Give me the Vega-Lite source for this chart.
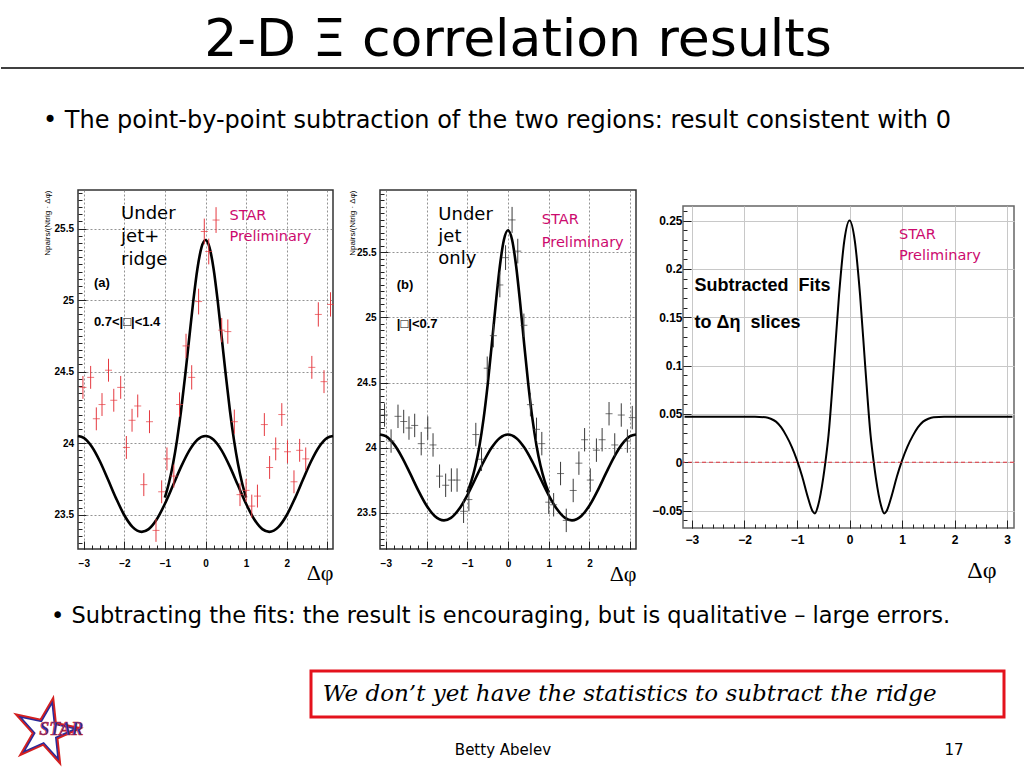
{
  "$schema": "https://vega.github.io/schema/vega-lite/v6.json",
  "background": "white",
  "padding": {"top": 14, "left": 0, "right": 0, "bottom": 0},
  "spacing": 20,
  "config": {
    "view": {"stroke": null},
    "axis": {"domain": false, "labelFont": "Liberation Sans", "labelFontWeight": "bold", "labelColor": "black", "tickColor": "#222", "tickWidth": 1, "labelFlush": false, "minExtent": 0},
    "title": {"color": "black", "fontWeight": "normal"}
  },
  "datasets": {
    "ca": [
      {"c": "f", "x": -3.1416, "y": 24.050}, {"c": "f", "x": -3.0, "y": 24.037}, {"c": "f", "x": -2.8, "y": 23.975}, {"c": "f", "x": -2.6, "y": 23.872},
      {"c": "f", "x": -2.4, "y": 23.744}, {"c": "f", "x": -2.2, "y": 23.612}, {"c": "f", "x": -2.0, "y": 23.496}, {"c": "f", "x": -1.8, "y": 23.415},
      {"c": "f", "x": -1.5708, "y": 23.380}, {"c": "f", "x": -1.4, "y": 23.399}, {"c": "f", "x": -1.2, "y": 23.468}, {"c": "f", "x": -1.0, "y": 23.576},
      {"c": "f", "x": -0.8, "y": 23.705}, {"c": "f", "x": -0.6, "y": 23.836}, {"c": "f", "x": -0.4, "y": 23.948}, {"c": "f", "x": -0.2, "y": 24.024},
      {"c": "f", "x": 0, "y": 24.050}, {"c": "f", "x": 0.2, "y": 24.024}, {"c": "f", "x": 0.4, "y": 23.948}, {"c": "f", "x": 0.6, "y": 23.836},
      {"c": "f", "x": 0.8, "y": 23.705}, {"c": "f", "x": 1.0, "y": 23.576}, {"c": "f", "x": 1.2, "y": 23.468}, {"c": "f", "x": 1.4, "y": 23.399},
      {"c": "f", "x": 1.5708, "y": 23.380}, {"c": "f", "x": 1.8, "y": 23.415}, {"c": "f", "x": 2.0, "y": 23.496}, {"c": "f", "x": 2.2, "y": 23.612},
      {"c": "f", "x": 2.4, "y": 23.744}, {"c": "f", "x": 2.6, "y": 23.872}, {"c": "f", "x": 2.8, "y": 23.975}, {"c": "f", "x": 3.0, "y": 24.037},
      {"c": "f", "x": 3.1416, "y": 24.050},
      {"c": "j", "x": -1.0, "y": 23.620}, {"c": "j", "x": -0.9, "y": 23.723}, {"c": "j", "x": -0.8, "y": 23.856}, {"c": "j", "x": -0.7, "y": 24.025},
      {"c": "j", "x": -0.6, "y": 24.232}, {"c": "j", "x": -0.5, "y": 24.475}, {"c": "j", "x": -0.4, "y": 24.737}, {"c": "j", "x": -0.3, "y": 24.996},
      {"c": "j", "x": -0.2, "y": 25.218}, {"c": "j", "x": -0.1, "y": 25.367}, {"c": "j", "x": 0, "y": 25.420}, {"c": "j", "x": 0.1, "y": 25.367},
      {"c": "j", "x": 0.2, "y": 25.218}, {"c": "j", "x": 0.3, "y": 24.996}, {"c": "j", "x": 0.4, "y": 24.737}, {"c": "j", "x": 0.5, "y": 24.475},
      {"c": "j", "x": 0.6, "y": 24.232}, {"c": "j", "x": 0.7, "y": 24.025}, {"c": "j", "x": 0.8, "y": 23.856}, {"c": "j", "x": 0.9, "y": 23.723},
      {"c": "j", "x": 1.0, "y": 23.620}
    ],
    "cb": [
      {"c": "f", "x": -3.1416, "y": 24.100}, {"c": "f", "x": -3.0, "y": 24.087}, {"c": "f", "x": -2.8, "y": 24.026}, {"c": "f", "x": -2.6, "y": 23.925},
      {"c": "f", "x": -2.4, "y": 23.799}, {"c": "f", "x": -2.2, "y": 23.669}, {"c": "f", "x": -2.0, "y": 23.554}, {"c": "f", "x": -1.8, "y": 23.474},
      {"c": "f", "x": -1.5708, "y": 23.440}, {"c": "f", "x": -1.4, "y": 23.459}, {"c": "f", "x": -1.2, "y": 23.527}, {"c": "f", "x": -1.0, "y": 23.633},
      {"c": "f", "x": -0.8, "y": 23.760}, {"c": "f", "x": -0.6, "y": 23.890}, {"c": "f", "x": -0.4, "y": 24.000}, {"c": "f", "x": -0.2, "y": 24.074},
      {"c": "f", "x": 0, "y": 24.100}, {"c": "f", "x": 0.2, "y": 24.074}, {"c": "f", "x": 0.4, "y": 24.000}, {"c": "f", "x": 0.6, "y": 23.890},
      {"c": "f", "x": 0.8, "y": 23.760}, {"c": "f", "x": 1.0, "y": 23.633}, {"c": "f", "x": 1.2, "y": 23.527}, {"c": "f", "x": 1.4, "y": 23.459},
      {"c": "f", "x": 1.5708, "y": 23.440}, {"c": "f", "x": 1.8, "y": 23.474}, {"c": "f", "x": 2.0, "y": 23.554}, {"c": "f", "x": 2.2, "y": 23.669},
      {"c": "f", "x": 2.4, "y": 23.799}, {"c": "f", "x": 2.6, "y": 23.925}, {"c": "f", "x": 2.8, "y": 24.026}, {"c": "f", "x": 3.0, "y": 24.087},
      {"c": "f", "x": 3.1416, "y": 24.100},
      {"c": "j", "x": -1.0, "y": 23.654}, {"c": "j", "x": -0.9, "y": 23.742}, {"c": "j", "x": -0.8, "y": 23.858}, {"c": "j", "x": -0.7, "y": 24.014},
      {"c": "j", "x": -0.6, "y": 24.220}, {"c": "j", "x": -0.5, "y": 24.480}, {"c": "j", "x": -0.4, "y": 24.786}, {"c": "j", "x": -0.3, "y": 25.106},
      {"c": "j", "x": -0.2, "y": 25.394}, {"c": "j", "x": -0.1, "y": 25.597}, {"c": "j", "x": 0, "y": 25.670}, {"c": "j", "x": 0.1, "y": 25.597},
      {"c": "j", "x": 0.2, "y": 25.394}, {"c": "j", "x": 0.3, "y": 25.106}, {"c": "j", "x": 0.4, "y": 24.786}, {"c": "j", "x": 0.5, "y": 24.480},
      {"c": "j", "x": 0.6, "y": 24.220}, {"c": "j", "x": 0.7, "y": 24.014}, {"c": "j", "x": 0.8, "y": 23.858}, {"c": "j", "x": 0.9, "y": 23.742},
      {"c": "j", "x": 1.0, "y": 23.654}
    ],
    "cc": [
      {"x": -3.14, "y": 0.047}, {"x": -2.2, "y": 0.047}, {"x": -1.8, "y": 0.047}, {"x": -1.6, "y": 0.0465}, {"x": -1.5, "y": 0.045},
      {"x": -1.4, "y": 0.042}, {"x": -1.3, "y": 0.036}, {"x": -1.2, "y": 0.027}, {"x": -1.1, "y": 0.016}, {"x": -1.0, "y": 0.002},
      {"x": -0.9, "y": -0.015}, {"x": -0.8, "y": -0.035}, {"x": -0.7, "y": -0.051}, {"x": -0.66, "y": -0.053}, {"x": -0.6, "y": -0.045},
      {"x": -0.5, "y": -0.016}, {"x": -0.46, "y": 0.0}, {"x": -0.4, "y": 0.028}, {"x": -0.3, "y": 0.098}, {"x": -0.2, "y": 0.173},
      {"x": -0.1, "y": 0.229}, {"x": 0, "y": 0.25}, {"x": 0.1, "y": 0.229}, {"x": 0.2, "y": 0.173}, {"x": 0.3, "y": 0.098},
      {"x": 0.4, "y": 0.028}, {"x": 0.46, "y": 0.0}, {"x": 0.5, "y": -0.016}, {"x": 0.6, "y": -0.045}, {"x": 0.66, "y": -0.053},
      {"x": 0.7, "y": -0.051}, {"x": 0.8, "y": -0.035}, {"x": 0.9, "y": -0.015}, {"x": 1.0, "y": 0.002}, {"x": 1.1, "y": 0.016},
      {"x": 1.2, "y": 0.027}, {"x": 1.3, "y": 0.036}, {"x": 1.4, "y": 0.042}, {"x": 1.5, "y": 0.045}, {"x": 1.6, "y": 0.0465},
      {"x": 1.8, "y": 0.047}, {"x": 2.2, "y": 0.047}, {"x": 3.1, "y": 0.047}
    ],
    "pa": [
      {"x": -3.02, "y": 24.39, "e": 0.08}, {"x": -2.83, "y": 24.46, "e": 0.08}, {"x": -2.69, "y": 24.17, "e": 0.08}, {"x": -2.55, "y": 24.27, "e": 0.08},
      {"x": -2.39, "y": 24.51, "e": 0.08}, {"x": -2.26, "y": 24.30, "e": 0.08}, {"x": -2.09, "y": 24.39, "e": 0.08}, {"x": -1.95, "y": 23.97, "e": 0.08},
      {"x": -1.81, "y": 24.16, "e": 0.08}, {"x": -1.67, "y": 24.26, "e": 0.08}, {"x": -1.52, "y": 23.71, "e": 0.08}, {"x": -1.38, "y": 24.15, "e": 0.08},
      {"x": -1.22, "y": 23.39, "e": 0.08}, {"x": -1.08, "y": 23.66, "e": 0.08}, {"x": -0.95, "y": 23.89, "e": 0.08}, {"x": -0.78, "y": 23.77, "e": 0.08},
      {"x": -0.64, "y": 24.27, "e": 0.085}, {"x": -0.48, "y": 24.68, "e": 0.085}, {"x": -0.34, "y": 24.46, "e": 0.085}, {"x": -0.17, "y": 24.99, "e": 0.09},
      {"x": -0.03, "y": 25.48, "e": 0.09}, {"x": 0.08, "y": 25.34, "e": 0.09}, {"x": 0.26, "y": 25.56, "e": 0.09}, {"x": 0.40, "y": 24.79, "e": 0.085},
      {"x": 0.55, "y": 24.78, "e": 0.085}, {"x": 0.71, "y": 24.15, "e": 0.085}, {"x": 0.85, "y": 23.64, "e": 0.08}, {"x": 1.00, "y": 23.67, "e": 0.08},
      {"x": 1.14, "y": 23.56, "e": 0.08}, {"x": 1.28, "y": 23.63, "e": 0.08}, {"x": 1.45, "y": 24.13, "e": 0.08}, {"x": 1.58, "y": 23.83, "e": 0.08},
      {"x": 1.73, "y": 23.96, "e": 0.08}, {"x": 1.88, "y": 24.20, "e": 0.08}, {"x": 2.02, "y": 23.94, "e": 0.08}, {"x": 2.18, "y": 23.73, "e": 0.08},
      {"x": 2.32, "y": 23.95, "e": 0.08}, {"x": 2.47, "y": 23.89, "e": 0.08}, {"x": 2.62, "y": 24.53, "e": 0.08}, {"x": 2.78, "y": 24.90, "e": 0.085},
      {"x": 2.92, "y": 24.43, "e": 0.08}, {"x": 3.08, "y": 24.97, "e": 0.085}
    ],
    "pb": [
      {"x": -3.03, "y": 24.25, "e": 0.09}, {"x": -2.87, "y": 24.05, "e": 0.09}, {"x": -2.70, "y": 24.24, "e": 0.09}, {"x": -2.56, "y": 24.20, "e": 0.09},
      {"x": -2.43, "y": 24.15, "e": 0.09}, {"x": -2.29, "y": 24.17, "e": 0.09}, {"x": -2.13, "y": 24.03, "e": 0.09}, {"x": -1.97, "y": 24.15, "e": 0.09},
      {"x": -1.84, "y": 24.02, "e": 0.09}, {"x": -1.68, "y": 23.78, "e": 0.09}, {"x": -1.53, "y": 23.71, "e": 0.09}, {"x": -1.39, "y": 23.75, "e": 0.09},
      {"x": -1.25, "y": 23.75, "e": 0.09}, {"x": -1.09, "y": 23.51, "e": 0.09}, {"x": -0.96, "y": 23.60, "e": 0.09}, {"x": -0.79, "y": 24.10, "e": 0.09},
      {"x": -0.65, "y": 23.91, "e": 0.09}, {"x": -0.51, "y": 24.61, "e": 0.09}, {"x": -0.36, "y": 24.86, "e": 0.09}, {"x": -0.20, "y": 25.25, "e": 0.095},
      {"x": -0.06, "y": 25.46, "e": 0.095}, {"x": 0.10, "y": 25.75, "e": 0.1}, {"x": 0.24, "y": 25.51, "e": 0.095}, {"x": 0.39, "y": 24.94, "e": 0.09},
      {"x": 0.55, "y": 24.33, "e": 0.09}, {"x": 0.70, "y": 24.14, "e": 0.09}, {"x": 0.83, "y": 24.03, "e": 0.09}, {"x": 1.00, "y": 23.58, "e": 0.09},
      {"x": 1.12, "y": 23.56, "e": 0.09}, {"x": 1.29, "y": 23.80, "e": 0.09}, {"x": 1.43, "y": 23.44, "e": 0.09}, {"x": 1.60, "y": 23.67, "e": 0.09},
      {"x": 1.74, "y": 23.88, "e": 0.09}, {"x": 1.88, "y": 24.06, "e": 0.09}, {"x": 2.02, "y": 23.75, "e": 0.09}, {"x": 2.17, "y": 23.98, "e": 0.09},
      {"x": 2.31, "y": 24.06, "e": 0.09}, {"x": 2.48, "y": 24.26, "e": 0.09}, {"x": 2.62, "y": 24.02, "e": 0.09}, {"x": 2.78, "y": 24.25, "e": 0.09},
      {"x": 2.93, "y": 24.05, "e": 0.09}, {"x": 3.05, "y": 24.23, "e": 0.09}
    ],
    "ta1": [{"x": -2.08, "y": 25.60, "t": "Under"}, {"x": -2.08, "y": 25.44, "t": "jet+"}, {"x": -2.08, "y": 25.28, "t": "ridge"}],
    "ta2": [{"x": 0.59, "y": 25.59, "t": "STAR"}, {"x": 0.59, "y": 25.44, "t": "Preliminary"}],
    "ta3": [{"x": -2.75, "y": 25.12, "t": "(a)"}, {"x": -2.75, "y": 24.85, "t": "0.7<|□|<1.4"}],
    "tb1": [{"x": -1.71, "y": 25.79, "t": "Under"}, {"x": -1.71, "y": 25.62, "t": "jet"}, {"x": -1.71, "y": 25.45, "t": "only"}],
    "tb2": [{"x": 0.83, "y": 25.75, "t": "STAR"}, {"x": 0.83, "y": 25.57, "t": "Preliminary"}],
    "tb3": [{"x": -2.73, "y": 25.25, "t": "(b)"}, {"x": -2.73, "y": 24.95, "t": "|□|<0.7"}],
    "tc1": [{"x": -2.95, "y": 0.182, "t": "Subtracted\u00a0\u00a0Fits"}, {"x": -2.95, "y": 0.144, "t": "to Δη\u00a0\u00a0slices"}],
    "tc2": [{"x": 0.94, "y": 0.235, "t": "STAR"}, {"x": 0.94, "y": 0.2135, "t": "Preliminary"}],
    "zero": [{"y": 0}],
    "logo": [{"x": 0.5, "y": 0.36}],
    "logotxt": [{"x": 0.67, "y": 0.38, "t": "STAR"}],
    "boxtxt": [{"x": 0.017, "y": 0.5, "t": "We don’t yet have the statistics to subtract the ridge"}],
    "footer": [{"x": 0.277, "y": -0.72, "t": "Betty Abelev"}, {"x": 0.928, "y": -0.72, "t": "17"}]
  },
  "vconcat": [
    {
      "title": {"text": "2-D Ξ correlation results", "font": "DejaVu Sans", "fontSize": 52, "anchor": "middle", "offset": 0, "dx": 5},
      "width": 1024,
      "height": 20,
      "data": {"values": [{"v": 1}]},
      "mark": {"type": "rule", "color": "black", "strokeWidth": 1.5},
      "encoding": {"y": {"field": "v", "type": "quantitative", "scale": {"domain": [0, 1]}, "axis": null}}
    },
    {
      "title": {"text": "•  The point-by-point subtraction of the two regions: result consistent with 0", "font": "DejaVu Sans", "fontSize": 24, "anchor": "start", "dx": 42, "offset": 55},
      "columns": 4,
      "align": "none",
      "spacing": 8,
      "concat": [
        {"width": 33, "height": 10, "data": {"values": [{"x": 0}]}, "mark": {"type": "point", "opacity": 0}, "encoding": {"x": {"field": "x", "type": "quantitative", "axis": null}}},
        {
          "width": 255,
          "height": 359,
          "view": {"stroke": "#333", "strokeWidth": 1.5, "fill": "white"},
          "resolve": {"axis": {"x": "independent", "y": "independent"}},
          "encoding": {
            "x": {"field": "x", "type": "quantitative", "scale": {"domain": [-3.1416, 3.1416], "nice": false, "zero": false}, "axis": null},
            "y": {"field": "y", "type": "quantitative", "scale": {"domain": [23.26, 25.77], "nice": false, "zero": false}, "axis": null}
          },
          "layer": [
            {
              "data": {"name": "ca"},
              "mark": {"type": "line", "color": "black", "strokeWidth": 2.6, "interpolate": "monotone"},
              "encoding": {
                "x": {"field": "x", "type": "quantitative", "scale": {"domain": [-3.1416, 3.1416], "nice": false, "zero": false},
                  "axis": {"orient": "bottom", "values": [-3, -2, -1, 0, 1, 2, 3], "labelExpr": "datum.value == 3 ? '' : datum.label", "grid": true, "gridDash": [2, 2], "gridColor": "#777", "gridWidth": 0.8, "tickSize": -8, "labelFontSize": 10, "labelPadding": 17, "title": "Δφ", "titleFont": "Liberation Serif", "titleFontSize": 22, "titleFontWeight": "normal", "titleAnchor": "end", "titlePadding": -6}},
                "y": {"field": "y", "type": "quantitative", "scale": {"domain": [23.26, 25.77], "nice": false, "zero": false},
                  "axis": {"orient": "left", "values": [23.5, 24, 24.5, 25, 25.5], "format": "~g", "grid": true, "gridDash": [2, 2], "gridColor": "#777", "gridWidth": 0.8, "tickSize": -8, "labelFontSize": 10, "labelPadding": 12.5, "title": "Npairs/(Ntrig · Δφ)", "titleFont": "Liberation Sans", "titleFontSize": 8, "titleFontWeight": "normal", "titleAnchor": "end", "titlePadding": 3}},
                "detail": {"field": "c", "type": "nominal"}
              }
            },
            {
              "data": {"name": "pa"},
              "mark": {"type": "errorbar", "color": "#e53a40"},
              "encoding": {"yError": {"field": "e"}}
            },
            {
              "data": {"name": "pa"},
              "mark": {"type": "tick", "orient": "horizontal", "color": "#e53a40", "size": 7, "thickness": 1},
              "encoding": {
                "x": {"field": "x", "type": "quantitative", "scale": {"domain": [-3.1416, 3.1416], "nice": false, "zero": false},
                  "axis": {"orient": "bottom", "tickCount": 32, "labels": false, "grid": false, "tickSize": -4, "title": null}},
                "y": {"field": "y", "type": "quantitative", "scale": {"domain": [23.26, 25.77], "nice": false, "zero": false},
                  "axis": {"orient": "left", "tickCount": 50, "labels": false, "grid": false, "tickSize": -4, "title": null}}
              }
            },
            {
              "data": {"name": "ta1"},
              "mark": {"type": "text", "align": "left", "baseline": "middle", "font": "DejaVu Sans", "fontSize": 18, "color": "black"},
              "encoding": {"text": {"field": "t", "type": "nominal"}}
            },
            {
              "data": {"name": "ta2"},
              "mark": {"type": "text", "align": "left", "baseline": "middle", "font": "DejaVu Sans", "fontSize": 14.5, "color": "#cc0a6e"},
              "encoding": {"text": {"field": "t", "type": "nominal"}}
            },
            {
              "data": {"name": "ta3"},
              "mark": {"type": "text", "align": "left", "baseline": "middle", "font": "Liberation Sans", "fontWeight": "bold", "fontSize": 13, "color": "black"},
              "encoding": {"text": {"field": "t", "type": "nominal"}}
            }
          ]
        },
        {
          "width": 256,
          "height": 359,
          "view": {"stroke": "#333", "strokeWidth": 1.5, "fill": "white"},
          "resolve": {"axis": {"x": "independent", "y": "independent"}},
          "encoding": {
            "x": {"field": "x", "type": "quantitative", "scale": {"domain": [-3.1416, 3.1416], "nice": false, "zero": false}, "axis": null},
            "y": {"field": "y", "type": "quantitative", "scale": {"domain": [23.22, 25.98], "nice": false, "zero": false}, "axis": null}
          },
          "layer": [
            {
              "data": {"name": "cb"},
              "mark": {"type": "line", "color": "black", "strokeWidth": 2.6, "interpolate": "monotone"},
              "encoding": {
                "x": {"field": "x", "type": "quantitative", "scale": {"domain": [-3.1416, 3.1416], "nice": false, "zero": false},
                  "axis": {"orient": "bottom", "values": [-3, -2, -1, 0, 1, 2, 3], "labelExpr": "datum.value == 3 ? '' : datum.label", "grid": true, "gridDash": [2, 2], "gridColor": "#777", "gridWidth": 0.8, "tickSize": -8, "labelFontSize": 10, "labelPadding": 17, "title": "Δφ", "titleFont": "Liberation Serif", "titleFontSize": 22, "titleFontWeight": "normal", "titleAnchor": "end", "titlePadding": -5}},
                "y": {"field": "y", "type": "quantitative", "scale": {"domain": [23.22, 25.98], "nice": false, "zero": false},
                  "axis": {"orient": "left", "values": [23.5, 24, 24.5, 25, 25.5], "format": "~g", "grid": true, "gridDash": [2, 2], "gridColor": "#777", "gridWidth": 0.8, "tickSize": -8, "labelFontSize": 10, "labelPadding": 12, "title": "Npairs/(Ntrig · Δφ)", "titleFont": "Liberation Sans", "titleFontSize": 8, "titleFontWeight": "normal", "titleAnchor": "end", "titlePadding": 0}},
                "detail": {"field": "c", "type": "nominal"}
              }
            },
            {
              "data": {"name": "pb"},
              "mark": {"type": "errorbar", "color": "#3a3a3a"},
              "encoding": {"yError": {"field": "e"}}
            },
            {
              "data": {"name": "pb"},
              "mark": {"type": "tick", "orient": "horizontal", "color": "#3a3a3a", "size": 7, "thickness": 1},
              "encoding": {
                "x": {"field": "x", "type": "quantitative", "scale": {"domain": [-3.1416, 3.1416], "nice": false, "zero": false},
                  "axis": {"orient": "bottom", "tickCount": 32, "labels": false, "grid": false, "tickSize": -4, "title": null}},
                "y": {"field": "y", "type": "quantitative", "scale": {"domain": [23.22, 25.98], "nice": false, "zero": false},
                  "axis": {"orient": "left", "tickCount": 50, "labels": false, "grid": false, "tickSize": -4, "title": null}}
              }
            },
            {
              "data": {"name": "tb1"},
              "mark": {"type": "text", "align": "left", "baseline": "middle", "font": "DejaVu Sans", "fontSize": 18, "color": "black"},
              "encoding": {"text": {"field": "t", "type": "nominal"}}
            },
            {
              "data": {"name": "tb2"},
              "mark": {"type": "text", "align": "left", "baseline": "middle", "font": "DejaVu Sans", "fontSize": 14.5, "color": "#cc0a6e"},
              "encoding": {"text": {"field": "t", "type": "nominal"}}
            },
            {
              "data": {"name": "tb3"},
              "mark": {"type": "text", "align": "left", "baseline": "middle", "font": "Liberation Sans", "fontWeight": "bold", "fontSize": 13, "color": "black"},
              "encoding": {"text": {"field": "t", "type": "nominal"}}
            }
          ]
        },
        {
          "spacing": 11,
          "vconcat": [
            {"width": 331, "height": 1, "data": {"values": [{"x": 0}]}, "mark": {"type": "point", "opacity": 0}, "encoding": {"x": {"field": "x", "type": "quantitative", "axis": null}}},
            {
              "width": 331,
              "height": 322,
              "view": {"stroke": "#666", "strokeWidth": 1.5, "fill": "white"},
              "resolve": {"axis": {"x": "independent", "y": "independent"}},
              "encoding": {
                "x": {"field": "x", "type": "quantitative", "scale": {"domain": [-3.17, 3.13], "nice": false, "zero": false}, "axis": null},
                "y": {"field": "y", "type": "quantitative", "scale": {"domain": [-0.068, 0.265], "nice": false, "zero": false}, "axis": null}
              },
              "layer": [
                {
                  "data": {"name": "cc"},
                  "mark": {"type": "line", "color": "black", "strokeWidth": 2, "interpolate": "monotone"},
                  "encoding": {
                    "x": {"field": "x", "type": "quantitative", "scale": {"domain": [-3.17, 3.13], "nice": false, "zero": false},
                      "axis": {"orient": "bottom", "values": [-3, -2, -1, 0, 1, 2, 3], "grid": true, "gridColor": "#c8c8c8", "gridWidth": 1, "tickSize": -8, "labelFontSize": 12, "labelPadding": 14, "title": "Δφ", "titleFont": "Liberation Serif", "titleFontSize": 24, "titleFontWeight": "normal", "titleX": 313, "titleY": 30, "titleAlign": "right", "titleBaseline": "top"}},
                    "y": {"field": "y", "type": "quantitative", "scale": {"domain": [-0.068, 0.265], "nice": false, "zero": false},
                      "axis": {"orient": "left", "values": [-0.05, 0, 0.05, 0.1, 0.15, 0.2, 0.25], "format": "~g", "grid": true, "gridColor": "#c8c8c8", "gridWidth": 1, "tickSize": -8, "labelFontSize": 12, "labelPadding": 9, "title": null}}
                  }
                },
                {
                  "data": {"name": "zero"},
                  "mark": {"type": "rule", "color": "#e0303a", "strokeDash": [4, 3], "strokeWidth": 1},
                  "encoding": {"x": null}
                },
                {
                  "data": {"name": "tc1"},
                  "mark": {"type": "text", "align": "left", "baseline": "middle", "font": "Liberation Sans", "fontWeight": "bold", "fontSize": 18, "color": "black"},
                  "encoding": {"text": {"field": "t", "type": "nominal"}}
                },
                {
                  "data": {"name": "tc2"},
                  "mark": {"type": "text", "align": "left", "baseline": "middle", "font": "DejaVu Sans", "fontSize": 14.5, "color": "#cc0a6e"},
                  "encoding": {
                    "text": {"field": "t", "type": "nominal"},
                    "x": {"field": "x", "type": "quantitative", "scale": {"domain": [-3.17, 3.13], "nice": false, "zero": false},
                      "axis": {"orient": "bottom", "tickCount": 32, "labels": false, "grid": false, "tickSize": -4, "title": null}},
                    "y": {"field": "y", "type": "quantitative", "scale": {"domain": [-0.068, 0.265], "nice": false, "zero": false},
                      "axis": {"orient": "left", "tickCount": 33, "labels": false, "grid": false, "tickSize": -4, "title": null}}
                  }
                }
              ]
            }
          ]
        }
      ]
    },
    {
      "title": {"text": "• Subtracting the fits: the result is encouraging, but is qualitative –  large errors.", "font": "DejaVu Sans", "fontSize": 22.5, "anchor": "start", "dx": 50, "offset": 42},
      "spacing": 218,
      "hconcat": [
        {
          "width": 90,
          "height": 95,
          "encoding": {
            "x": {"field": "x", "type": "quantitative", "scale": {"domain": [0, 1]}, "axis": null},
            "y": {"field": "y", "type": "quantitative", "scale": {"domain": [0, 1]}, "axis": null}
          },
          "layer": [
            {"data": {"name": "logo"}, "mark": {"type": "point", "shape": "M0,-1L0.2245,-0.309L0.951,-0.309L0.363,0.118L0.588,0.809L0,0.382L-0.588,0.809L-0.363,0.118L-0.951,-0.309L-0.2245,-0.309Z", "size": 4600, "angle": 12, "stroke": "#d42020", "strokeWidth": 2.5, "filled": false, "opacity": 1}},
            {"data": {"name": "logo"}, "mark": {"type": "point", "shape": "M0,-1L0.2245,-0.309L0.951,-0.309L0.363,0.118L0.588,0.809L0,0.382L-0.588,0.809L-0.363,0.118L-0.951,-0.309L-0.2245,-0.309Z", "size": 3500, "angle": 12, "stroke": "#2a2a9a", "strokeWidth": 1.5, "filled": false, "opacity": 1}},
            {"data": {"name": "logotxt"}, "mark": {"type": "text", "font": "Liberation Serif", "fontStyle": "italic", "fontWeight": "bold", "fontSize": 18, "color": "#2233aa", "stroke": "#d42020", "strokeWidth": 0.6}, "encoding": {"text": {"field": "t", "type": "nominal"}}}
          ]
        },
        {
          "width": 693,
          "height": 46,
          "view": {"stroke": "#e4121c", "strokeWidth": 3, "fill": "white"},
          "encoding": {
            "x": {"field": "x", "type": "quantitative", "scale": {"domain": [0, 1]}, "axis": null},
            "y": {"field": "y", "type": "quantitative", "scale": {"domain": [0, 1]}, "axis": null}
          },
          "layer": [
            {"data": {"name": "boxtxt"}, "mark": {"type": "text", "align": "left", "baseline": "middle", "font": "DejaVu Serif", "fontStyle": "italic", "fontSize": 23, "color": "black"}, "encoding": {"text": {"field": "t", "type": "nominal"}}},
            {"data": {"name": "footer"}, "mark": {"type": "text", "align": "center", "baseline": "middle", "font": "DejaVu Sans", "fontSize": 15, "color": "black"}, "encoding": {"text": {"field": "t", "type": "nominal"}}}
          ]
        }
      ]
    }
  ]
}
